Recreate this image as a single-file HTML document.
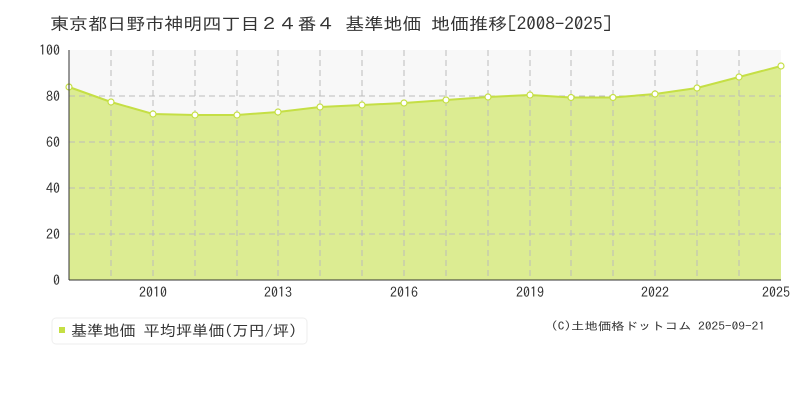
<!DOCTYPE html>
<html><head><meta charset="utf-8"><style>
body{margin:0;background:#fff;width:800px;height:400px;overflow:hidden}
</style></head><body>
<svg width="800" height="400" xmlns="http://www.w3.org/2000/svg" font-family="IPAGothic, Liberation Mono, monospace">
<text x="50" y="30" font-size="17" fill="#333" textLength="562" lengthAdjust="spacingAndGlyphs">東京都日野市神明四丁目２４番４ 基準地価 地価推移[2008-2025]</text>
<rect x="69" y="50" width="712" height="230" fill="#f8f8f8"/>
<polygon fill="#dcec92" points="69,280 69,87 111,102 153,114 195,115 237,115 278,112 320,107 362,105 404,103 446,100 488,97 530,95 571,97.5 613,97.5 655,94 697,88 739,77 781,66 781,280"/>
<g stroke="#bbb" stroke-dasharray="6,4" stroke-width="1">
<line x1="69" x2="781" y1="96" y2="96"/><line x1="69" x2="781" y1="142" y2="142"/><line x1="69" x2="781" y1="188" y2="188"/><line x1="69" x2="781" y1="234" y2="234"/>
<line x1="111" x2="111" y1="50" y2="280"/><line x1="153" x2="153" y1="50" y2="280"/><line x1="195" x2="195" y1="50" y2="280"/><line x1="237" x2="237" y1="50" y2="280"/><line x1="278" x2="278" y1="50" y2="280"/><line x1="320" x2="320" y1="50" y2="280"/><line x1="362" x2="362" y1="50" y2="280"/><line x1="404" x2="404" y1="50" y2="280"/><line x1="446" x2="446" y1="50" y2="280"/><line x1="488" x2="488" y1="50" y2="280"/><line x1="530" x2="530" y1="50" y2="280"/><line x1="571" x2="571" y1="50" y2="280"/><line x1="613" x2="613" y1="50" y2="280"/><line x1="655" x2="655" y1="50" y2="280"/><line x1="697" x2="697" y1="50" y2="280"/><line x1="739" x2="739" y1="50" y2="280"/>
</g>
<polyline fill="none" stroke="#c5df45" stroke-width="2" points="69,87 111,102 153,114 195,115 237,115 278,112 320,107 362,105 404,103 446,100 488,97 530,95 571,97.5 613,97.5 655,94 697,88 739,77 781,66"/>
<g fill="#fff" stroke="#c5df45" stroke-width="1.2">
<circle cx="69" cy="87" r="3"/><circle cx="111" cy="102" r="3"/><circle cx="153" cy="114" r="3"/><circle cx="195" cy="115" r="3"/><circle cx="237" cy="115" r="3"/><circle cx="278" cy="112" r="3"/><circle cx="320" cy="107" r="3"/><circle cx="362" cy="105" r="3"/><circle cx="404" cy="103" r="3"/><circle cx="446" cy="100" r="3"/><circle cx="488" cy="97" r="3"/><circle cx="530" cy="95" r="3"/><circle cx="571" cy="97.5" r="3"/><circle cx="613" cy="97.5" r="3"/><circle cx="655" cy="94" r="3"/><circle cx="697" cy="88" r="3"/><circle cx="739" cy="77" r="3"/><circle cx="781" cy="66" r="3"/>
</g>
<line x1="69" x2="69" y1="50" y2="280" stroke="#333"/><line x1="69" x2="781" y1="280" y2="280" stroke="#333"/>
<g font-size="14" fill="#333" text-anchor="end">
<text x="60" y="55">100</text><text x="60" y="101">80</text><text x="60" y="147">60</text><text x="60" y="193">40</text><text x="60" y="239">20</text><text x="60" y="285">0</text>
</g>
<g font-size="14" fill="#333" text-anchor="middle">
<text x="153" y="297">2010</text><text x="278" y="297">2013</text><text x="404" y="297">2016</text><text x="530" y="297">2019</text><text x="655" y="297">2022</text><text x="776" y="297">2025</text>
</g>
<rect x="52" y="318" width="255" height="26" rx="4" fill="#fff" stroke="#eee"/>
<rect x="59" y="327" width="6" height="6" fill="#c5df45"/>
<text x="71" y="336" font-size="15" fill="#333" textLength="226" lengthAdjust="spacingAndGlyphs">基準地価 平均坪単価(万円/坪)</text>
<text x="551" y="330" font-size="11" fill="#333" textLength="214" lengthAdjust="spacingAndGlyphs">(C)土地価格ドットコム 2025-09-21</text>
</svg>
</body></html>
